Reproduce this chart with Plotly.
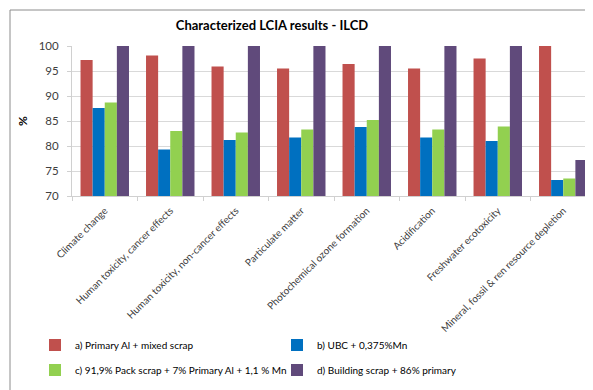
import plotly.graph_objects as go

categories = ["Climate change", "Human toxicity, cancer effects",
              "Human toxicity, non-cancer effects", "Particulate matter",
              "Photochemical ozone formation", "Acidification",
              "Freshwater ecotoxicity", "Mineral, fossil & ren resource depletion"]

primary_mixed = [97.2, 98.1, 95.9, 95.5, 96.4, 95.5, 97.5, 100]
ubc_mn = [87.6, 79.3, 81.2, 81.7, 83.8, 81.7, 81.0, 73.2]
pack_scrap = [88.7, 83.0, 82.7, 83.3, 85.2, 83.3, 83.9, 73.5]
building_scrap = [100, 100, 100, 100, 100, 100, 100, 77.2]

series = [
    ("a) Primary Al + mixed scrap", primary_mixed, "#C0504D", "legend"),
    ("b) UBC + 0,375%Mn", ubc_mn, "#0070C0", "legend"),
    ("c) 91,9% Pack scrap + 7% Primary Al + 1,1 % Mn", pack_scrap, "#92D050", "legend2"),
    ("d) Building scrap + 86% primary", building_scrap, "#604A7B", "legend2"),
]

# page body has an 8px margin, so the figure is drawn 8px smaller
W, H = 585, 382
L, R, T, B = 64, 585, 38, 188  # plot area in px

fig = go.Figure()
for name, vals, col, lg in series:
    fig.add_bar(x=categories, y=vals, name=name, marker_color=col,
                marker_line_width=0, legend=lg)

font = "Lato, 'Open Sans', sans-serif"

def px(x):
    return (x - L) / (R - L)

def py(y):
    return (B - y) / (B - T)

fig.update_layout(
    width=W, height=H,
    margin=dict(l=L, r=W - R, t=T, b=H - B, autoexpand=False),
    paper_bgcolor="white", plot_bgcolor="white",
    font=dict(family=font, color="#404040"),
    barmode="group", bargap=0.26, bargroupgap=0,
    title=dict(text="<b>Characterized LCIA results - ILCD</b>",
               x=264 / W, xanchor="center", y=1 - 17 / H, yanchor="middle",
               font=dict(size=13, color="#000000", family=font)),
    xaxis=dict(range=[-0.5, 7.454], tickangle=-45, tickfont=dict(size=10, color="#404040"),
               showline=True, linecolor="#d0d0d0", ticks="outside", tickson="boundaries",
               ticklen=4, tickcolor="#d0d0d0", showgrid=False, automargin=False,
               ticklabelstandoff=4),
    yaxis=dict(range=[70, 100], dtick=5, tickfont=dict(size=11.5, color="#404040"),
               gridcolor="#d9d9d9", showline=True, linecolor="#d0d0d0",
               ticks="outside", ticklen=4, tickcolor="#d0d0d0", automargin=False,
               ticklabelstandoff=6,
               title=dict(text="<b>%</b>", font=dict(size=12, color="#000000"), standoff=8)),
    legend=dict(orientation="h", xref="container", yref="container",
                x=27 / W, y=1 - 337 / H, yanchor="middle", entrywidth=197,
                font=dict(size=10, color="#000000"), bgcolor="rgba(0,0,0,0)"),
    legend2=dict(orientation="h", xref="container", yref="container",
                 x=27 / W, y=1 - 362 / H, yanchor="middle", entrywidth=197,
                 font=dict(size=10, color="#000000"), bgcolor="rgba(0,0,0,0)"),
    shapes=[dict(type="rect", xref="paper", yref="paper",
                 x0=px(2), x1=px(620), y0=py(420), y1=py(2),
                 line=dict(color="#8c8c8c", width=1), fillcolor="rgba(0,0,0,0)",
                 layer="below")],
)

fig.write_html("out.html")
